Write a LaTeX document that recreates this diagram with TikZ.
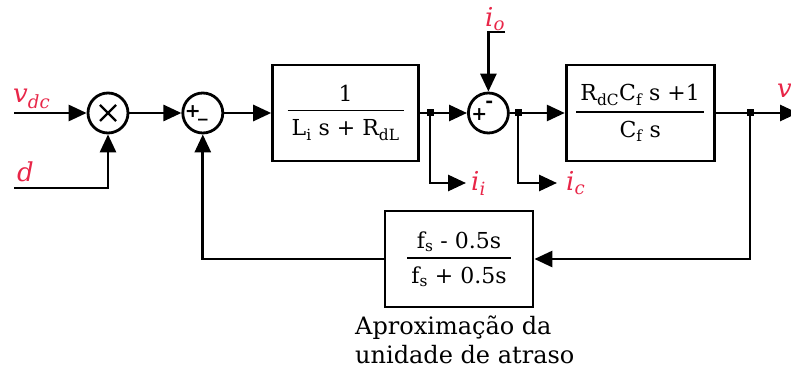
\documentclass[tikz,border=0pt]{standalone}
\usepackage{fontspec}
\setmainfont{DejaVu Serif}
\usepackage{xcolor}
\usetikzlibrary{arrows.meta, positioning, calc}
\definecolor{sigred}{RGB}{232,38,72}
\newcommand{\tf}[2]{$\displaystyle{\mbox{\hspace{4pt}#1\hspace{4pt}}\above 1.8pt\mbox{\hspace{4pt}\rule{0pt}{19pt}#2\hspace{4pt}}}$}
\tikzset{
  block/.style={draw, line width=2.8pt, minimum width=146pt, minimum height=96pt, inner sep=0pt},
  summer/.style={draw, circle, line width=2.8pt, minimum size=40pt, inner sep=0pt},
  mult/.style={summer, path picture={
      \draw[line width=2.4pt] ($(path picture bounding box.center)+(-8,-8)$) -- +(16,16)
                              ($(path picture bounding box.center)+(-8,8)$) -- +(16,-16);}},
  sig/.style={text=sigred, font=\fontsize{26}{30}\selectfont\itshape, inner sep=0pt, anchor=base west},
  sign/.style={font=\fontsize{19}{19}\selectfont\bfseries, inner sep=0pt},
  arrow/.style={-{Triangle[length=18pt, width=16pt]}, line width=2.8pt},
  dot/.style={rectangle, fill, inner sep=0pt, minimum size=7pt},
  note/.style={align=left, font=\fontsize{24}{29}\selectfont, inner sep=0pt},
  every node/.style={font=\fontsize{22}{26}\selectfont}
}

\begin{document}
\begin{tikzpicture}[x=1pt, y=1pt]
    \useasboundingbox (0,0) rectangle (791,-371);
    \node[mult] (mul) at (108,-113) {};
    \node[summer, right=52pt of mul] (sum1) {};
    \node[block, right=47pt of sum1] (plant1) {\tf{1}{L\textsubscript{i} s + R\textsubscript{dL}}};
    \node[summer, right=47pt of plant1] (sum2) {};
    \node[block, minimum width=148pt, right=55pt of sum2] (plant2) {\tf{R\textsubscript{dC}C\textsubscript{f} s +1}{C\textsubscript{f} s}};
    \node[block, minimum width=148pt] (delay) at (459,-259) {\tf{f\textsubscript{s} - 0.5s}{f\textsubscript{s} + 0.5s}};
    \node[note, anchor=base west] (cap) at (355,-363) {Aproximação da\\unidade de atraso};

    % signs in the summing junctions
    \node[sign] (p1) at ($(sum1.center)+(-10,1)$) {+};
    \node[sign] (m1) at ($(sum1.center)+(0,-6)$) {\_};
    \node[sign] (p2) at ($(sum2.center)+(-9,-2)$) {+};
    \node[sign] (m2) at ($(sum2.center)+(1,9)$) {-};

    \coordinate (vin) at (14,-113);
    \coordinate (din) at (14,-188);
    \coordinate (ioin) at (505,-32);
    \coordinate (vout) at (798,-113);
    \coordinate (ji) at (430,-113);
    \coordinate (jc) at (518,-113);
    \coordinate (jo) at (750,-113);
    \coordinate (iiout) at (466,-183);
    \coordinate (icout) at (557,-183);

    \node[sig] (vdclab) at (13,-103) {v\textsubscript{dc}};
    \node[sig] (dlab) at (17,-182) {d};
    \node[sig] (iolab) at (485,-27) {i\textsubscript{o}};
    \node[sig] (iilab) at (471,-191) {i\textsubscript{i}};
    \node[sig] (iclab) at (566,-191) {i\textsubscript{c}};
    \node[sig] (vlab) at (777,-98) {v};

    \draw[arrow] (vin) -- (mul.west);
    \draw[arrow] (din) -| (mul.south);
    \draw[arrow] (mul) -- (sum1);
    \draw[arrow] (sum1) -- (plant1);
    \draw[arrow] (plant1) -- (sum2);
    \draw[arrow] (ioin) -| (sum2.north);
    \draw[arrow] (sum2) -- (plant2);
    \draw[arrow] (plant2) -- (vout);
    \draw[arrow] (ji) |- (iiout);
    \draw[arrow] (jc) |- (icout);
    \draw[arrow] (jo) |- (delay.east);
    \draw[arrow] (delay.west) -| (sum1.south);
    \node[dot] at (ji) {};
    \node[dot] at (jc) {};
    \node[dot] at (jo) {};
\end{tikzpicture}
\end{document}
